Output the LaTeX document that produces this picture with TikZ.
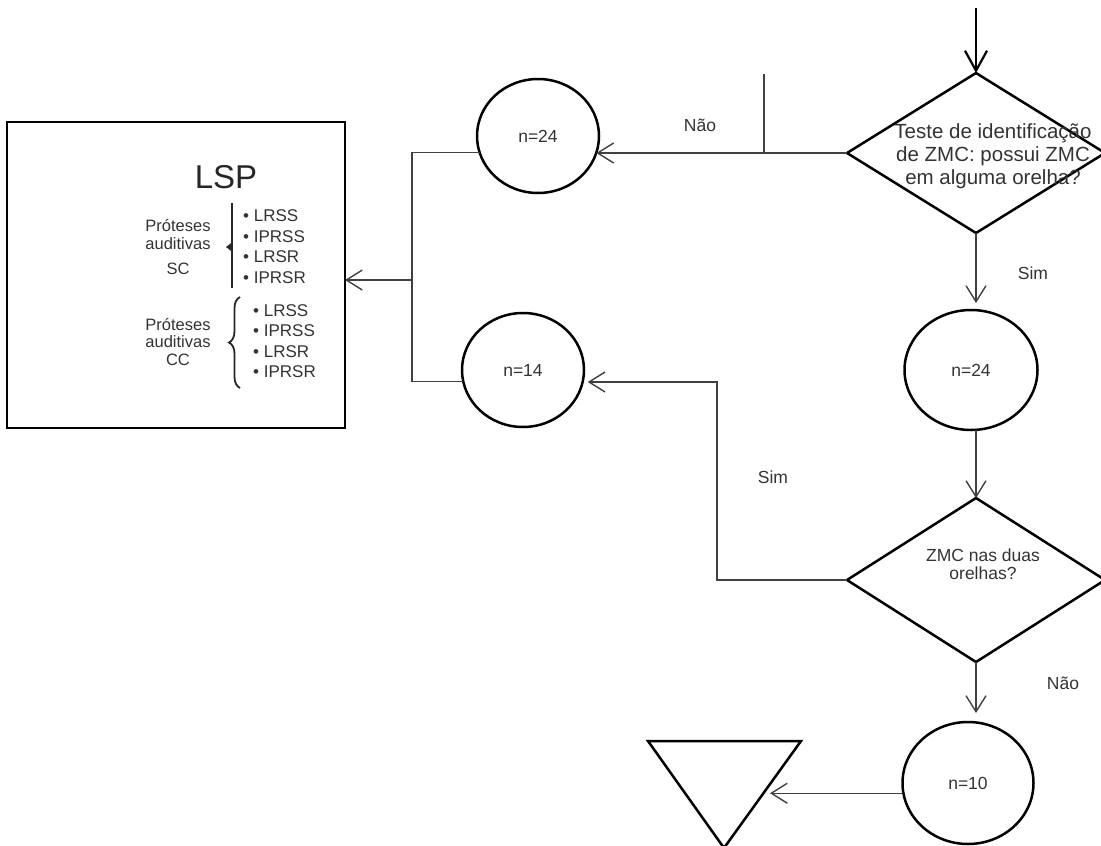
\documentclass[tikz,border=0pt]{standalone}
\usepackage{fontspec}
\setmainfont{Liberation Sans}
\usetikzlibrary{arrows.meta,shapes.geometric,decorations.pathreplacing}
\begin{document}
\begin{tikzpicture}[x=1pt,y=-1pt,
  shp/.style={draw=black,line width=2.5pt,inner sep=0pt,outer sep=0pt},
  oval/.style={shp,ellipse},
  dia/.style={shp,diamond},
  conn/.style={draw=black!75,line width=1.4pt},
  arr/.style={conn,-{Straight Barb[length=16pt,width=20pt,line width=1.4pt]}},
  lbl/.style={text=black!80,font=\fontsize{17.5}{21}\selectfont},
  boxtxt/.style={text=black!80,font=\fontsize{16.5}{17.5}\selectfont,align=center,inner sep=0pt},
  items/.style={text=black!80,font=\fontsize{17}{20.5}\selectfont,align=left,inner sep=0pt,anchor=west},
]
\useasboundingbox (0,0) rectangle (1101,846);

% decisions
\node[dia,minimum width=258pt,minimum height=160pt] (d1) at (976,153) {};
\node[lbl,font=\fontsize{20.5}{23}\selectfont,align=center,inner sep=0pt] (t1) at (993,156)
  {Teste de identificação\\de ZMC: possui ZMC\\em alguma orelha?};
\node[dia,minimum width=258pt,minimum height=164pt] (d2) at (976,580) {};
\node[lbl,font=\fontsize{17.5}{18.5}\selectfont,align=center,inner sep=0pt] (t2) at (983,564)
  {ZMC nas duas\\orelhas?};

% counts
\node[oval,lbl,minimum width=122pt,minimum height=114pt] (c1) at (538,136) {n=24};
\node[oval,lbl,minimum width=122pt,minimum height=114pt] (c14) at (523,370) {n=14};
\node[oval,lbl,minimum width=133pt,minimum height=120pt] (c2) at (971,370) {n=24};
\node[oval,lbl,minimum width=131pt,minimum height=122pt] (c3) at (968,783) {n=10};

% LSP box
\node[shp,minimum width=338pt,minimum height=306pt] (lsp) at (176,275) {};
\node[text=black!85,font=\fontsize{33}{36}\selectfont,inner sep=0pt] (lsptitle) at (226,177) {LSP};
\node[boxtxt] (g1) at (178,247) {Próteses\\auditivas\\[7.5pt]SC};
\node[items] (i1) at (243,246.5) {• LRSS\\• IPRSS\\• LRSR\\• IPRSR};
\node[boxtxt] (g2) at (178,342) {Próteses\\auditivas\\CC};
\node[items] (i2) at (253,341) {• LRSS\\• IPRSS\\• LRSR\\• IPRSR};
\draw[line width=1.3pt,black!85] (232,203) -- (232,288);
\fill[black!85] (232.5,242) -- (226,247) -- (232.5,252) -- cycle;
\draw[line width=1.8pt,black!85,decorate,decoration={brace,amplitude=11pt}] (240,388) -- (240,297);

% end triangle
\draw[shp,line join=miter] (648,741) -- (801,741) -- (724,848) -- cycle;
\coordinate (tri) at (770,793);

% connectors
\coordinate (start) at (976,8);
\draw[conn,draw=black,line width=2.2pt,-{Straight Barb[length=20pt,width=22pt,line width=2.2pt]}] (start) -- (d1.north);
\draw[arr] (d1.west) -- (d1.west -| c1.344);
\coordinate (tick) at (764,74);
\draw[conn] (tick) -- (tick |- d1.west);
\node[lbl] (nao1) at (700,125) {Não};

\draw[arr,shorten >=7pt] (d1.south) -- (d1.south |- c2.north);
\node[lbl] (sim1) at (1033,273) {Sim};
\draw[arr] (c2.south -| d2.north) -- (d2.north);

\coordinate (bend) at (717,382);
\draw[arr,shorten >=5pt] (d2.west) -| (bend) -- (bend -| c14.349);
\node[lbl] (sim2) at (773,477) {Sim};

\coordinate (join) at (412,280);
\draw[conn] (c1.196) -| (join);
\draw[conn] (c14.191) -| (join);
\draw[arr] (join) -- (join -| lsp.east);

\draw[arr,shorten >=9pt] (d2.south) -- (d2.south |- c3.north);
\node[lbl] (nao2) at (1063,683) {Não};
\draw[arr] (c3.189) -- (c3.189 -| tri);
\end{tikzpicture}
\end{document}
